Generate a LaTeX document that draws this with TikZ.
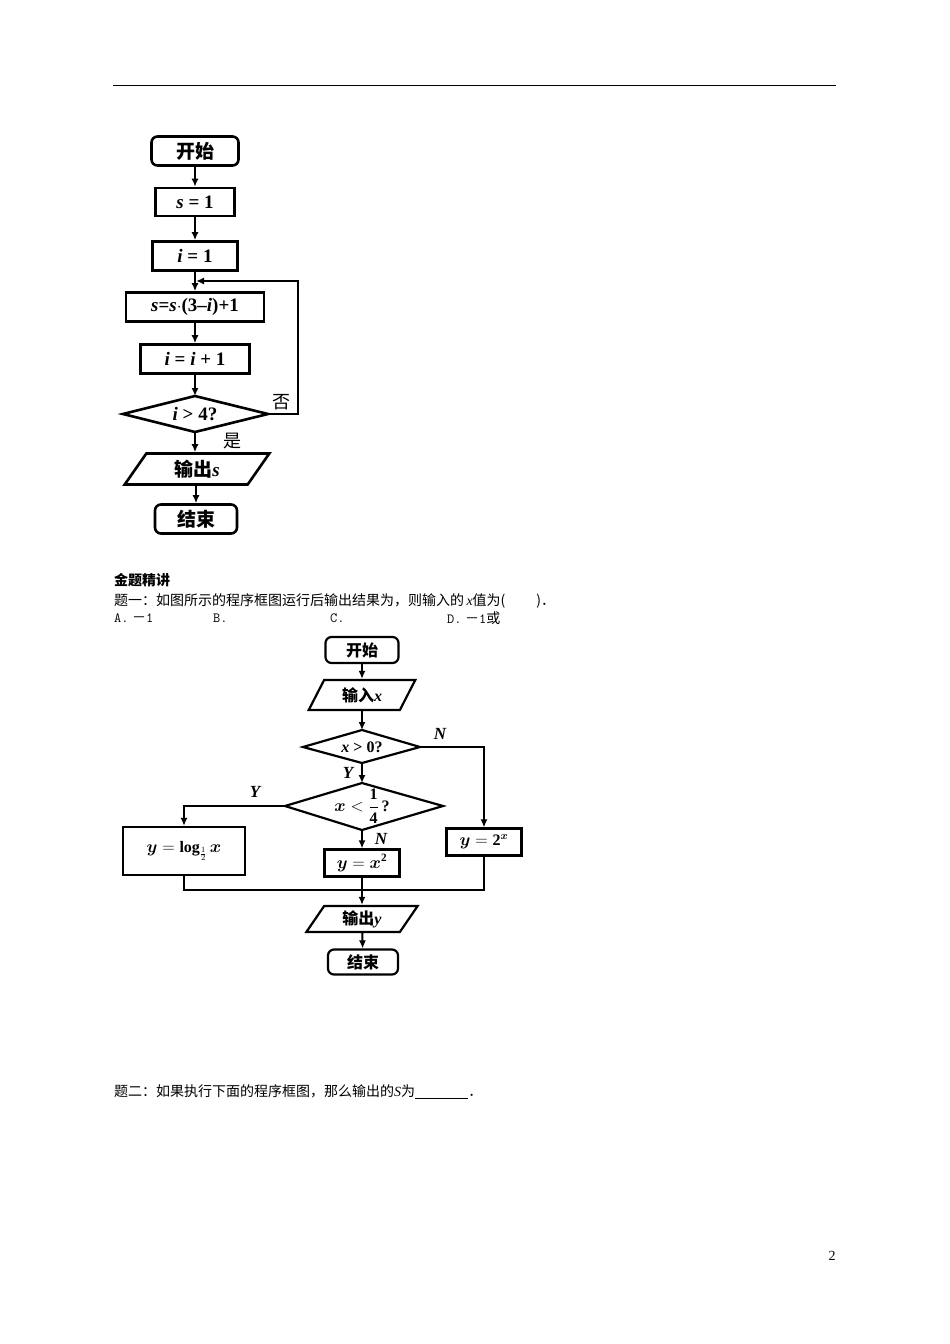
\documentclass[tikz,border=0pt]{standalone}
\usepackage{amsmath}
\usepackage{fontspec}
\setmainfont{Liberation Serif}
\newfontfamily\cjk{Noto Sans CJK SC}
\usetikzlibrary{shapes.geometric,arrows.meta}
\begin{document}
\begin{tikzpicture}[x=1pt,y=-1pt,
  box/.style={draw,line width=2.6pt,inner sep=0pt,font=\fontsize{19}{20}\selectfont\bfseries},
  rbox/.style={box,rounded corners=6pt},
  para/.style={box,trapezium,trapezium left angle=62,trapezium right angle=118,trapezium stretches=true},
  dtext/.style={inner sep=0pt,font=\fontsize{19}{20}\selectfont\bfseries},
  sbox/.style={draw,line width=2.2pt,inner sep=0pt,font=\fontsize{16}{17}\selectfont\bfseries},
  srbox/.style={sbox,rounded corners=6pt},
  spara/.style={sbox,trapezium,trapezium left angle=62,trapezium right angle=118,trapezium stretches=true},
  sdtext/.style={inner sep=0pt,font=\fontsize{16}{17}\selectfont\bfseries},
  arr/.style={line width=2pt,-{Latex[length=8pt,width=7pt]}},
  ln/.style={line width=2pt},
  lab/.style={font=\fontsize{17}{18}\selectfont\bfseries\itshape},
  txt/.style={anchor=west,font=\fontsize{14}{15}\selectfont,inner sep=0pt}]
\useasboundingbox (0,0) rectangle (950,1344);
\draw[line width=1pt] (113,85) -- (836,85);
% top chart
\node[rbox,minimum width=87pt,minimum height=29pt] (a1) at (195,151) {\cjk 开始};
\node[box,minimum width=79pt,minimum height=28pt] (a2) at (195,202) {\itshape s\upshape\ = 1};
\node[box,minimum width=85pt,minimum height=29pt] (a3) at (195,256) {\itshape i\upshape\ = 1};
\node[box,minimum width=138pt,minimum height=29pt] (a4) at (195,307) {\itshape s\upshape=\itshape s\upshape$\cdot$(3--\itshape i\upshape)+1};
\node[box,minimum width=109pt,minimum height=29pt] (a5) at (195,359) {\itshape i\upshape\ = \itshape i\upshape\ + 1};
\node[dtext] (a6) at (195,414) {\itshape i\upshape\ > 4?};
\coordinate (a6n) at (195,396); \coordinate (a6s) at (195,432);
\coordinate (a6e) at (268,414); \coordinate (a6w) at (123,414);
\draw[line width=2.6pt,line join=miter] (a6n) -- (a6e) -- (a6s) -- (a6w) -- cycle;
\node[para,minimum width=145pt,minimum height=31pt] (a7) at (197,469) {{\cjk 输出}\itshape s};
\node[rbox,minimum width=82pt,minimum height=29pt] (a8) at (196,519) {\cjk 结束};
\coordinate (lp) at (195,281);
\draw[arr] (a1) -- (a2);
\draw[arr] (a2) -- (a3);
\draw[arr] (a3) -- (a4);
\draw[arr] (a4) -- (a5);
\draw[arr] (a5) -- (a6n);
\draw[arr] (a6s) -- (a6s|-a7.north);
\draw[arr] (a7.south-|a8) -- (a8);
\draw[arr] (a6e) -- (298,414) -- (298,281) -- ([xshift=1pt]lp);
\node[font=\fontsize{18}{18}\selectfont\cjk] (no1) at (281,402) {否};
\node[font=\fontsize{18}{18}\selectfont\cjk] (yes1) at (232,441) {是};
% text
\node[txt,font=\fontsize{14}{15}\selectfont\cjk\bfseries] (t1) at (114,580) {金题精讲};
\node[txt] (t2) at (114,601) {{\cjk 题一：如图所示的程序框图运行后输出结果为，则输入的}\,\itshape x\upshape{\cjk 值为(\hspace{2.2em})．}};
\node[txt] (t3) at (114,618) {\texttt{A.} {\cjk －}\texttt{1}};
\node[txt] (t4) at (213,618) {\texttt{B.}};
\node[txt] (t5) at (330,618) {\texttt{C.}};
\node[txt] (t6) at (447,618) {\texttt{D.} {\cjk －}\texttt{1}{\cjk 或}};
\node[txt] (t7) at (114,1092) {{\cjk 题二：如果执行下面的程序框图，那么输出的}\itshape S\upshape{\cjk 为}\underline{\hspace{3.8em}}{\cjk ．}};
\node[font=\fontsize{14}{15}\selectfont] (pg) at (832,1256) {2};
% bottom chart
\node[srbox,minimum width=73pt,minimum height=26pt] (b1) at (362,650) {\cjk 开始};
\node[spara,minimum width=107pt,minimum height=30pt] (b2) at (362,695) {{\cjk 输入}\itshape x};
\node[sdtext] (b3) at (362,747) {\itshape x\upshape\ > 0?};
\coordinate (b3n) at (362,730); \coordinate (b3s) at (362,763);
\coordinate (b3e) at (420,747); \coordinate (b3w) at (303,747);
\draw[line width=2.2pt] (b3n) -- (b3e) -- (b3s) -- (b3w) -- cycle;
\node[sdtext] (b4) at (362,806) {$\boldsymbol{x}<\dfrac{\mathbf 1}{\mathbf 4}$\,?};
\coordinate (b4n) at (362,783); \coordinate (b4s) at (362,830);
\coordinate (b4e) at (443,806); \coordinate (b4w) at (285,806);
\draw[line width=2.2pt] (b4n) -- (b4e) -- (b4s) -- (b4w) -- cycle;
\node[sbox,minimum width=122pt,minimum height=48pt] (b5) at (184,851) {$\boldsymbol{y}=\mathbf{log}_{\frac{1}{2}}\,\boldsymbol{x}$};
\node[sbox,minimum width=75pt,minimum height=27pt] (b6) at (362,863) {$\boldsymbol{y}=\boldsymbol{x}^{\mathbf 2}$};
\node[sbox,minimum width=75pt,minimum height=27pt] (b7) at (484,842) {$\boldsymbol{y}=\mathbf 2^{\boldsymbol{x}}$};
\node[spara,minimum width=112pt,minimum height=26pt] (b8) at (362,919) {{\cjk 输出}\itshape y};
\node[srbox,minimum width=70pt,minimum height=25pt] (b9) at (363,962) {\cjk 结束};
\coordinate (m) at (362,890);
\draw[arr] (b1) -- (b2);
\draw[arr] (b2) -- (b3n);
\draw[arr] (b3s) -- (b4n);
\draw[arr] (b4s) -- (b6);
\draw[arr] (b3e) -| (b7.north);
\draw[arr] (b4w) -| (b5.north);
\draw[ln] (b5.south) |- (m);
\draw[ln] (b7.south) |- (m);
\draw[ln] (b6.south) -- (m);
\draw[arr] (m) -- (b8);
\draw[arr] (b8) -- (b9);
\node[lab] (nN1) at (440,734) {N};
\node[lab] (nY1) at (348,773) {Y};
\node[lab] (nY2) at (255,792) {Y};
\node[lab] (nN2) at (381,839) {N};
\end{tikzpicture}
\end{document}
